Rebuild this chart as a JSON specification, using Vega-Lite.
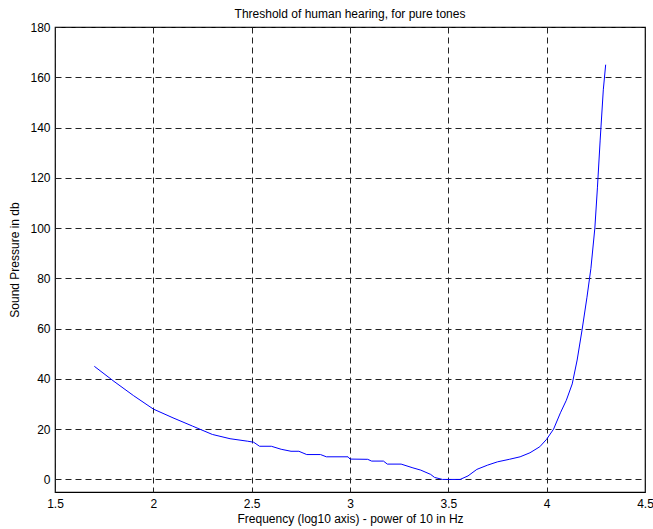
{
  "$schema": "https://vega.github.io/schema/vega-lite/v6.json",
  "width": 590,
  "height": 465,
  "autosize": {"type": "none"},
  "padding": {"left": 55, "top": 27, "right": 8, "bottom": 37},
  "background": "white",
  "config": {
    "font": "Liberation Sans",
    "view": {"stroke": "black", "strokeWidth": 1.2},
    "axis": {
      "labelFont": "Liberation Sans",
      "titleFont": "Liberation Sans",
      "labelFontSize": 12,
      "titleFontSize": 12,
      "titleFontWeight": "normal",
      "labelColor": "black",
      "titleColor": "black",
      "domain": false,
      "ticks": false,
      "grid": true,
      "gridColor": "#222222",
      "gridDash": [6, 4],
      "gridWidth": 1,
      "gridOpacity": 1
    }
  },
  "title": {
    "text": "Threshold of human hearing, for pure tones",
    "font": "Liberation Sans",
    "fontSize": 12,
    "fontWeight": "normal",
    "color": "black",
    "anchor": "middle",
    "offset": 0
  },
  "data": {
    "values": [
      {"f": 1.70, "db": 45.0},
      {"f": 1.80, "db": 39.0},
      {"f": 1.90, "db": 33.3},
      {"f": 2.00, "db": 28.0},
      {"f": 2.10, "db": 24.5},
      {"f": 2.20, "db": 21.2},
      {"f": 2.30, "db": 17.9},
      {"f": 2.39, "db": 16.2},
      {"f": 2.48, "db": 15.2},
      {"f": 2.51, "db": 14.8},
      {"f": 2.54, "db": 13.2},
      {"f": 2.60, "db": 13.2},
      {"f": 2.65, "db": 12.0},
      {"f": 2.70, "db": 11.2},
      {"f": 2.74, "db": 11.2},
      {"f": 2.78, "db": 9.9},
      {"f": 2.85, "db": 9.9},
      {"f": 2.88, "db": 9.0},
      {"f": 2.99, "db": 9.0},
      {"f": 3.00, "db": 8.1},
      {"f": 3.09, "db": 8.0},
      {"f": 3.11, "db": 7.3},
      {"f": 3.17, "db": 7.3},
      {"f": 3.19, "db": 6.1},
      {"f": 3.26, "db": 6.1},
      {"f": 3.32, "db": 4.6},
      {"f": 3.36, "db": 3.7},
      {"f": 3.41, "db": 2.0},
      {"f": 3.43, "db": 0.8},
      {"f": 3.47, "db": 0.0},
      {"f": 3.56, "db": 0.0},
      {"f": 3.60, "db": 1.4},
      {"f": 3.645, "db": 4.0},
      {"f": 3.70, "db": 5.7},
      {"f": 3.75, "db": 7.0},
      {"f": 3.81, "db": 8.0},
      {"f": 3.865, "db": 9.0},
      {"f": 3.915, "db": 10.6},
      {"f": 3.965, "db": 13.0},
      {"f": 4.00, "db": 16.0},
      {"f": 4.035, "db": 20.0},
      {"f": 4.07, "db": 26.5},
      {"f": 4.10, "db": 31.5},
      {"f": 4.13, "db": 38.0},
      {"f": 4.155, "db": 47.5},
      {"f": 4.18, "db": 59.5},
      {"f": 4.205, "db": 72.5},
      {"f": 4.225, "db": 84.0},
      {"f": 4.245, "db": 100.0},
      {"f": 4.258, "db": 116.0},
      {"f": 4.272, "db": 135.0},
      {"f": 4.288, "db": 155.0},
      {"f": 4.30, "db": 165.0}
    ]
  },
  "mark": {"type": "line", "color": "#0000ff", "strokeWidth": 1, "clip": true},
  "encoding": {
    "x": {
      "field": "f",
      "type": "quantitative",
      "scale": {"domain": [1.5, 4.5], "nice": false, "zero": false},
      "axis": {
        "values": [1.5, 2, 2.5, 3, 3.5, 4, 4.5],
        "format": "~g",
        "title": "Frequency (log10 axis) - power of 10 in Hz",
        "labelPadding": 6,
        "titlePadding": 4,
        "labelFlush": false
      }
    },
    "y": {
      "field": "db",
      "type": "quantitative",
      "scale": {"domain": [-5, 180], "nice": false, "zero": false},
      "axis": {
        "values": [0, 20, 40, 60, 80, 100, 120, 140, 160, 180],
        "title": "Sound Pressure in db",
        "labelPadding": 5,
        "titlePadding": 8,
        "labelFlush": false
      }
    }
  }
}
